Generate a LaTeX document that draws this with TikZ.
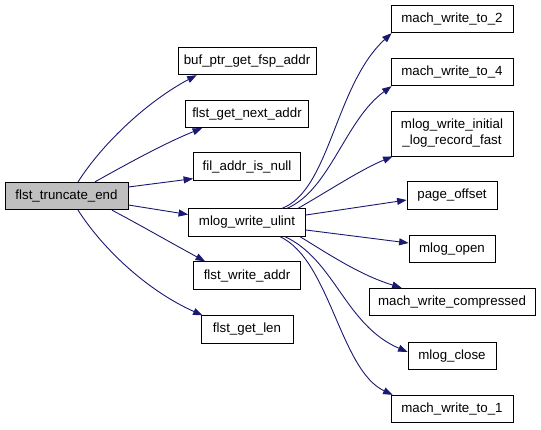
\documentclass[tikz,border=0pt]{standalone}
\usepackage{fontspec}
\setmainfont{Liberation Sans}
\usetikzlibrary{arrows.meta}
\definecolor{edgec}{RGB}{25,25,112}
\definecolor{grayfill}{RGB}{191,191,191}
\begin{document}
\begin{tikzpicture}[x=1pt,y=-1pt,
  box/.style={draw=black, line width=0.8pt, fill=white, minimum height=27.5pt, inner sep=0pt, align=center, font=\fontsize{13.3}{16}\selectfont},
  edge/.style={draw=edgec, line width=0.9pt, -{Triangle[length=9.5pt,width=7pt]}}]
\useasboundingbox (0,0) rectangle (541,429);
% left
\node[box, fill=grayfill, minimum width=123pt] (fte) at (66.5,196) {flst\_truncate\_end};
% middle column
\node[box, minimum width=138pt] (buf) at (247,61) {buf\_ptr\_get\_fsp\_addr};
\node[box, minimum width=123pt] (fgn) at (247,114) {flst\_get\_next\_addr};
\node[box, minimum width=107pt] (fan) at (247,166.5) {fil\_addr\_is\_null};
\node[box, minimum width=117pt] (mwu) at (247,222.5) {mlog\_write\_ulint};
\node[box, minimum width=107pt] (fwa) at (247,275.5) {flst\_write\_addr};
\node[box, minimum width=92pt] (fgl) at (247,329.5) {flst\_get\_len};
% right column
\node[box, minimum width=122pt] (mw2) at (452,19) {mach\_write\_to\_2};
\node[box, minimum width=122pt] (mw4) at (452,72) {mach\_write\_to\_4};
\node[box, minimum width=122pt, minimum height=45pt] (mwi) at (452,133.5) {mlog\_write\_initial\\\_log\_record\_fast};
\node[box, minimum width=90pt] (po) at (452,195.5) {page\_offset};
\node[box, minimum width=86pt] (mo) at (452,249) {mlog\_open};
\node[box, minimum width=166pt] (mwc) at (452,302) {mach\_write\_compressed};
\node[box, minimum width=88pt] (mc) at (452,356) {mlog\_close};
\node[box, minimum width=122pt] (mw1) at (452,409) {mach\_write\_to\_1};
% edges from flst_truncate_end
\path[edge] ([xshift=11.5pt]fte.north) .. controls (105,140) and (150,100) .. ([xshift=19pt]buf.south west);
\path[edge] ([xshift=28.5pt]fte.north) .. controls (125,165) and (165,143) .. ([xshift=17pt]fgn.south west);
\path[edge] ([yshift=9pt]fte.east) -- ([yshift=2pt]fan.south west);
\path[edge] ([yshift=-9pt]fte.east) -- ([yshift=8pt]mwu.west);
\path[edge] ([xshift=45.5pt]fte.south) .. controls (140,225) and (175,245) .. ([xshift=12pt]fwa.north west);
\path[edge] ([xshift=11.5pt]fte.south) .. controls (105,252) and (150,292) .. ([xshift=2pt]fgl.north west);
% edges from mlog_write_ulint
\path[edge] ([xshift=35pt]mwu.north) .. controls (330,190) and (335,85) .. ([xshift=1pt]mw2.south west);
\path[edge] ([xshift=40pt]mwu.north) .. controls (330,190) and (345,120) .. ([xshift=1pt]mw4.south west);
\path[edge] ([xshift=51pt]mwu.north) .. controls (330,190) and (360,170) .. ([xshift=2pt]mwi.south west);
\path[edge] ([yshift=7.5pt]mwu.east) -- ([yshift=-4.5pt]po.west);
\path[edge] ([yshift=-7.5pt]mwu.east) -- ([yshift=6pt]mo.west);
\path[edge] ([xshift=53pt]mwu.south) .. controls (330,255) and (360,275) .. ([xshift=33pt]mwc.north west);
\path[edge] ([xshift=38pt]mwu.south) .. controls (335,260) and (345,325) .. ([yshift=4pt]mc.west);
\path[edge] ([xshift=33pt]mwu.south) .. controls (330,260) and (340,370) .. ([xshift=2pt]mw1.north west);
\end{tikzpicture}
\end{document}
